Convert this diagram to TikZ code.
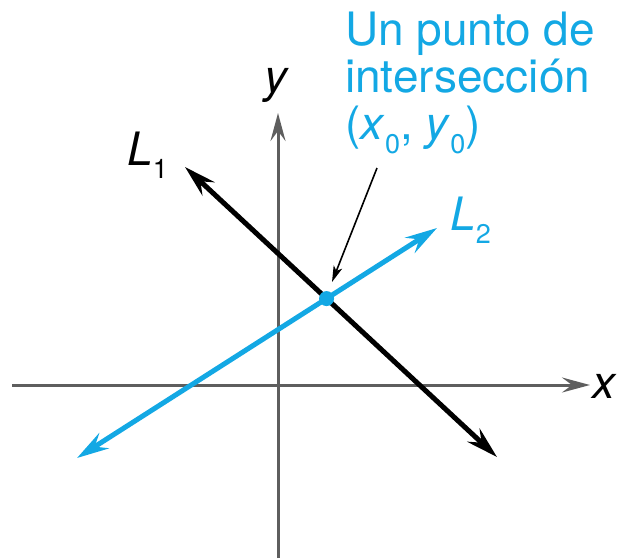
\documentclass[tikz,border=0pt]{standalone}
\usepackage{fontspec}
\setmainfont{TeX Gyre Heros}
\usepackage{tikz}
\usepackage{xcolor}
\usetikzlibrary{arrows.meta,intersections}
\definecolor{cian}{HTML}{13A8E4}
\definecolor{gris}{HTML}{5E5E5E}
\newcommand{\indice}[1]{\raisebox{-0.3em}{\fontsize{27}{27}\selectfont #1}}

\begin{document}
\begin{tikzpicture}[x=1pt,y=-1pt,
  eje/.style={draw=gris, line width=3pt, -{Stealth[length=28pt,width=15pt,inset=10pt]}},
  recta/.style={line width=5pt, {Stealth[length=32pt,width=18pt,inset=11pt]}-{Stealth[length=32pt,width=18pt,inset=11pt]}},
  flecha/.style={line width=1.6pt, -{Stealth[length=16pt,width=9pt,inset=4pt]}},
  etiqueta/.style={inner sep=0pt, font=\fontsize{46}{47}\selectfont}]

\useasboundingbox (0,0) rectangle (621,558);

% ejes
\coordinate (xizq) at (12,385);
\coordinate (xder) at (590,385);
\coordinate (yinf) at (278,558);
\coordinate (ysup) at (278,113);
\draw[eje] (xizq) -- (xder);
\draw[eje] (yinf) -- (ysup);
\node[etiqueta, anchor=base west] (ex) at (592,398) {\textit{x}};
\node[etiqueta, anchor=south] (ey) at (277,103) {\textit{y}};

% rectas
\coordinate (l1a) at (185,167);
\coordinate (l1b) at (497,457);
\coordinate (l2a) at (77,458);
\coordinate (l2b) at (437,228);
\draw[recta, black, name path=l1] (l1a) -- (l1b);
\draw[recta, cian, name path=l2] (l2a) -- (l2b);
\path[name intersections={of=l1 and l2, by=p0}];
\node[circle, fill=cian, inner sep=0pt, minimum size=15pt] (punto) at (p0) {};

\node[etiqueta, anchor=base west] (L1) at (127,165) {\textit{L}\indice{1}};
\node[etiqueta, anchor=base west, cian] (L2) at (450,230) {\textit{L}\indice{2}};

% texto y flecha
\node[etiqueta, cian, anchor=north west, align=left] (texto) at (345,12) {Un punto de\\intersección\\(\textit{x}\indice{0}, \textit{y}\indice{0})};
\coordinate (flini) at (377,168);
\coordinate (flfin) at (332,282);
\draw[flecha] (flini) -- (flfin);
\end{tikzpicture}
\end{document}
